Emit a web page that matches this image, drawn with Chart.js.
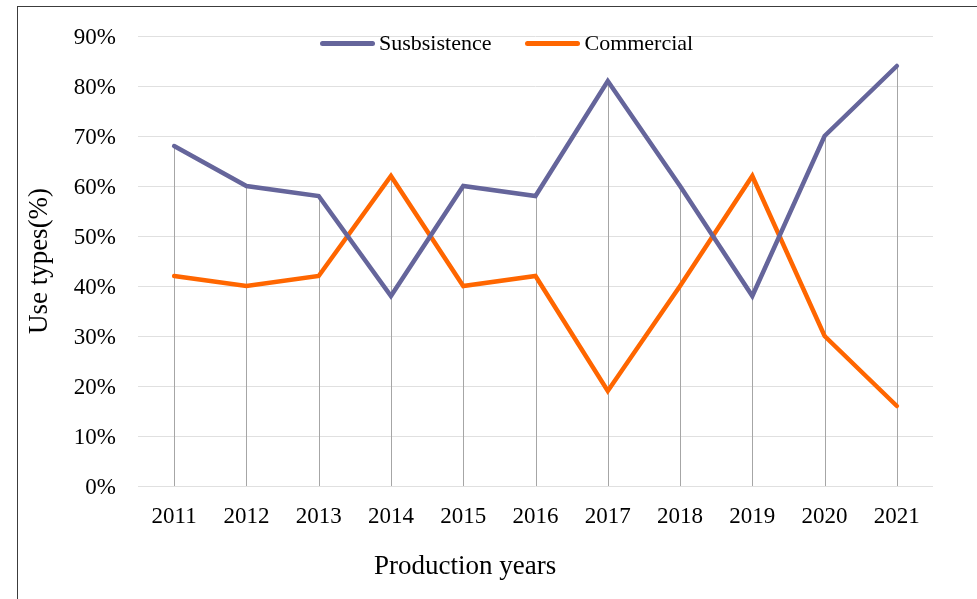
<!DOCTYPE html>
<html>
<head>
<meta charset="utf-8">
<script src="https://cdn.jsdelivr.net/npm/chart.js@4"></script>
<style>
  body { margin: 0; background: #fff; overflow: hidden; }
  #frame { position: absolute; left: 17px; top: 6px; width: 1000px; height: 700px; border: 1.5px solid #3c3c3c; }
  #grafik { position: absolute; left: 0; top: 0; }
  #legend { position: absolute; left: 320px; top: 30px; display: flex; align-items: center;
            font-family: "Liberation Serif", serif; font-size: 22px; color: #000; }
  #legend .item { display: flex; align-items: center; margin-right: 34px; }
  #legend .swatch { width: 55px; height: 5px; border-radius: 3px; margin-right: 4px; }
</style>
</head>
<body>
<div id="frame"></div>
<canvas id="grafik" width="977" height="599"></canvas>
<div id="legend"></div>
<script>
// data
const years = ['2011', '2012', '2013', '2014', '2015', '2016', '2017', '2018', '2019', '2020', '2021'];
const subsistence = [68, 60, 58, 38, 60, 58, 81, 60, 38, 70, 84];
const commercial = [42, 40, 42, 62, 40, 42, 19, 40, 62, 30, 16];
const yTicks = [0, 10, 20, 30, 40, 50, 60, 70, 80, 90];

const serif = 'Liberation Serif';

// gray drop line from the highest point of each year down to 0%
const dropLines = {
  id: 'dropLines',
  beforeDatasetsDraw(chart) {
    const { ctx, scales: { x, y } } = chart;
    ctx.save();
    ctx.strokeStyle = '#a6a6a6';
    ctx.lineWidth = 1;
    years.forEach((yr, i) => {
      const top = Math.max(...chart.data.datasets.map(d => d.data[i]));
      const px = Math.round(x.getPixelForValue(i)) + 0.5;
      ctx.beginPath();
      ctx.moveTo(px, y.getPixelForValue(top));
      ctx.lineTo(px, y.getPixelForValue(0));
      ctx.stroke();
    });
    ctx.restore();
  }
};

// x axis title sits left of centre in the original
const xTitle = {
  id: 'xTitle',
  afterDraw(chart) {
    const { ctx, chartArea } = chart;
    ctx.save();
    ctx.font = '27px "' + serif + '"';
    ctx.fillStyle = '#000';
    ctx.textAlign = 'left';
    ctx.textBaseline = 'alphabetic';
    ctx.fillText('Production years', chartArea.left + 236, 574);
    ctx.restore();
  }
};

// legend as html, built from the datasets
const htmlLegend = {
  id: 'htmlLegend',
  afterUpdate(chart) {
    const box = document.getElementById('legend');
    box.innerHTML = '';
    chart.data.datasets.forEach(ds => {
      const item = document.createElement('div');
      item.className = 'item';
      const sw = document.createElement('span');
      sw.className = 'swatch';
      sw.style.background = ds.borderColor;
      const txt = document.createElement('span');
      txt.textContent = ds.label;
      item.appendChild(sw);
      item.appendChild(txt);
      box.appendChild(item);
    });
  }
};

const ctx = document.getElementById('grafik').getContext('2d');
new Chart(ctx, {
  type: 'line',
  data: {
    labels: years,
    datasets: [{
      label: 'Susbsistence',
      data: subsistence,
      borderColor: '#65659b',
      backgroundColor: '#65659b',
      borderWidth: 4.5,
      borderCapStyle: 'round',
      pointRadius: 0,
      tension: 0,
      fill: false,
    }, {
      label: 'Commercial',
      data: commercial,
      borderColor: '#ff6600',
      backgroundColor: '#ff6600',
      borderWidth: 4.5,
      borderCapStyle: 'round',
      pointRadius: 0,
      tension: 0,
      fill: false,
    }],
  },
  options: {
    responsive: false,
    devicePixelRatio: 1,
    animation: false,
    layout: { padding: { top: 36, right: 44, left: 0, bottom: 0 } },
    plugins: {
      legend: { display: false },
      tooltip: { enabled: false },
    },
    scales: {
      x: {
        offset: true,
        grid: { display: false, drawTicks: false },
        border: { display: false },
        ticks: { color: '#000', padding: 17, font: { family: serif, size: 23 } },
        afterFit: s => { s.height = 113; },
      },
      y: {
        min: 0,
        max: 90,
        afterBuildTicks: s => { s.ticks = yTicks.map(v => ({ value: v })); },
        grid: { color: '#e0e0e0', lineWidth: 1, drawTicks: false },
        border: { display: false },
        ticks: { color: '#000', padding: 22, labelOffset: 2, font: { family: serif, size: 23 }, callback: v => v + '%' },
        title: { display: true, text: 'Use types(%)', color: '#000', padding: { top: 24 }, font: { family: serif, size: 27 } },
        afterFit: s => { s.width = 138; },
      },
    },
  },
  plugins: [dropLines, xTitle, htmlLegend],
});
</script>
</body>
</html>
